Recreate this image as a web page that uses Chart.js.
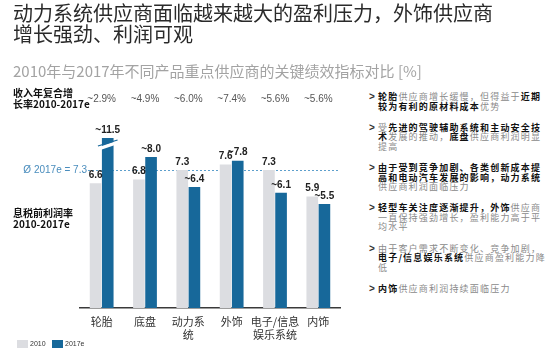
<!DOCTYPE html>
<html>
<head>
<meta charset="utf-8">
<script src="https://cdn.jsdelivr.net/npm/chart.js@4"></script>
<style>
  html, body { margin: 0; padding: 0; width: 554px; height: 352px; overflow: hidden; background: #fff; font-family: "Noto Sans CJK SC", sans-serif; }
  #wrap { position: absolute; left: 0; top: 0; width: 360px; height: 352px; }
  #title { position: absolute; left: 13px; top: 2px; width: 540px; font-size: 20px; line-height: 21px; color: #2a2a2a; }
  #subtitle { position: absolute; left: 13px; top: 63px; font-size: 15px; line-height: 16px; color: #a3a3a3; font-family: "Liberation Sans Narrow", "Noto Sans CJK SC", sans-serif; }
  .axislbl { position: absolute; left: 13px; font-weight: bold; font-size: 10px; line-height: 10.5px; color: #111; }
  #notes { position: absolute; left: 378px; top: 92px; width: 168px; font-size: 9px; letter-spacing: 1.2px; line-height: 9.6px; color: #8a8a8a; }
  #notes p { margin: 0 0 11.5px 0; position: relative; }
  #notes p:before { content: ">"; position: absolute; left: -9px; top: 0; color: #333; font-weight: bold; font-family: "Liberation Sans", sans-serif; font-size: 10px; }
  #notes b { color: #111; }
</style>
</head>
<body>
<div id="wrap"><canvas id="chart"></canvas></div>
<div id="title">动力系统供应商面临越来越大的盈利压力，外饰供应商<br>增长强劲、利润可观</div>
<div id="subtitle">2010年与2017年不同产品重点供应商的关键绩效指标对比 [%]</div>
<div class="axislbl" style="top:88px">收入年复合增<br>长率2010-2017e</div>
<div class="axislbl" style="top:208px">息税前利润率<br>2010-2017e</div>
<div id="notes">
  <p><b>轮胎</b>供应商增长缓慢，但得益于<b>近期较为有利的原材料成本</b>优势</p>
  <p>受<b>先进的驾驶辅助系统和主动安全技术</b>发展的推动，<b>底盘</b>供应商利润明显提高</p>
  <p><b>由于受到竞争加剧、各类创新成本提高和电动汽车发展的影响，动力系统</b>供应商利润面临压力</p>
  <p><b>轻型车关注度逐渐提升，外饰</b>供应商一直保持强劲增长，盈利能力高于平均水平</p>
  <p>由于客户需求不断变化、竞争加剧，<b>电子/信息娱乐系统</b>供应商盈利能力降低</p>
  <p><b>内饰</b>供应商利润持续面临压力</p>
</div>
<script>
// data
const categories = [['轮胎'], ['底盘'], ['动力系', '统'], ['外饰'], ['电子/信息', '娱乐系统'], ['内饰']];
const seriesNames = ['2010', '2017e'];
const ebit2010 = [6.6, 6.8, 7.3, 7.6, 7.3, 5.9];
const ebit2017 = [11.5, 8.0, 6.4, 7.8, 6.1, 5.5];
const revenueCagr = [2.9, 4.9, 6.0, 7.4, 5.6, 5.6];
const avg2017 = 7.3;
const yMax = 9; // the tallest bar is cut at the top

const colors = ['#dcdde1', '#17689a'];

const annotate = {
  id: 'annotate',
  beforeDatasetsDraw(chart) {
    const { ctx, chartArea, scales: { y } } = chart;
    const yy = Math.round(y.getPixelForValue(avg2017)) + 0.5;
    ctx.save();
    ctx.strokeStyle = '#5d9fcc';
    ctx.lineWidth = 1;
    ctx.setLineDash([2, 2]);
    ctx.beginPath();
    ctx.moveTo(88, yy);
    ctx.lineTo(chartArea.right - 2, yy);
    ctx.stroke();
    ctx.fillStyle = '#4a8dbd';
    ctx.font = '10px "Liberation Sans", sans-serif';
    ctx.textAlign = 'right';
    ctx.textBaseline = 'middle';
    ctx.fillText('Ø 2017e = ' + avg2017, 87, yy);
    ctx.restore();
  },
  afterDatasetsDraw(chart) {
    const { ctx, chartArea, scales: { x } } = chart;
    ctx.save();
    ctx.textAlign = 'center';

    // revenue growth row
    ctx.fillStyle = '#555';
    ctx.font = '10px "Liberation Sans Narrow", "Liberation Sans", sans-serif';
    ctx.textBaseline = 'middle';
    revenueCagr.forEach(function(v, i) {
      ctx.fillText('~' + v.toFixed(1) + '%', x.getPixelForValue(i), 99);
    });

    // value labels and the break mark
    chart.data.datasets.forEach(function(ds, di) {
      chart.getDatasetMeta(di).data.forEach(function(bar, i) {
        const top = Math.max(bar.y, chartArea.top);
        if (bar.y < chartArea.top) {
          const l = bar.x - bar.width / 2, r = bar.x + bar.width / 2;
          ctx.fillStyle = '#fff';
          ctx.beginPath();
          ctx.moveTo(l - 3, top + 9);
          ctx.lineTo(r + 3, top + 3);
          ctx.lineTo(r + 3, top + 6.5);
          ctx.lineTo(l - 3, top + 12.5);
          ctx.closePath();
          ctx.fill();
          ctx.strokeStyle = colors[di];
          ctx.lineWidth = 1.3;
          ctx.beginPath();
          ctx.moveTo(l - 4, top + 8);
          ctx.lineTo(r + 4, top + 2);
          ctx.stroke();
        }
        ctx.fillStyle = '#222';
        ctx.font = 'bold 10px "Liberation Sans Narrow", "Liberation Sans", sans-serif';
        ctx.textBaseline = 'bottom';
        const label = (di === 1 ? '~' : '') + ds.data[i].toFixed(1);
        ctx.fillText(label, bar.x, top - 3);
      });
    });

    // small legend in the lower left corner
    let lx = 17;
    ctx.textAlign = 'left';
    ctx.textBaseline = 'middle';
    ctx.font = '7px "Liberation Sans Narrow", "Liberation Sans", sans-serif';
    chart.data.datasets.forEach(function(ds) {
      ctx.fillStyle = ds.backgroundColor;
      ctx.fillRect(lx, 340, 11, 8);
      ctx.fillStyle = '#333';
      ctx.fillText(ds.label, lx + 13, 344.5);
      lx += 35;
    });
    ctx.restore();
  }
};

new Chart(document.getElementById('chart').getContext('2d'), {
  type: 'bar',
  data: {
    labels: categories,
    datasets: [{
      label: seriesNames[0],
      data: ebit2010,
      backgroundColor: colors[0],
      clip: 0
    }, {
      label: seriesNames[1],
      data: ebit2017,
      backgroundColor: colors[1],
      clip: 0
    }]
  },
  options: {
    responsive: true,
    maintainAspectRatio: false,
    animation: false,
    devicePixelRatio: 1,
    categoryPercentage: 0.56,
    barPercentage: 0.96,
    layout: { padding: { left: 7, right: 20, top: 138, bottom: 4 } },
    scales: {
      x: {
        grid: { display: false, drawTicks: false },
        border: { color: '#3a3a3a', width: 1.5 },
        ticks: {
          color: '#333',
          padding: 8,
          maxRotation: 0,
          minRotation: 0,
          autoSkip: false,
          font: { size: 11, family: '"Noto Sans CJK SC"', lineHeight: 1.13 }
        },
        afterFit: function(s) { s.height = 40; }
      },
      y: {
        min: 0,
        max: yMax,
        ticks: { display: false },
        grid: { display: false },
        border: { display: false },
        afterFit: function(s) { s.width = 73; }
      }
    },
    plugins: {
      legend: { display: false },
      tooltip: { enabled: false }
    }
  },
  plugins: [annotate]
});
</script>
</body>
</html>
